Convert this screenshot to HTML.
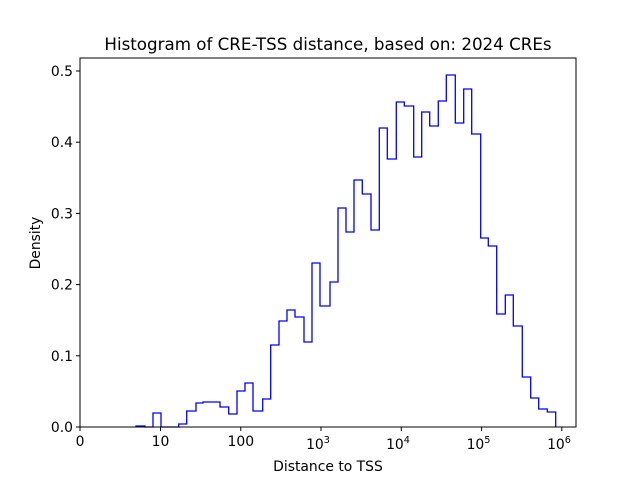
<!DOCTYPE html>
<html><head><meta charset="utf-8"><style>
html,body{margin:0;padding:0;background:#fff;}
svg{display:block;font-family:"DejaVu Sans","Liberation Sans",sans-serif;}
</style></head><body>
<svg width="640" height="480" viewBox="0 0 640 480" xmlns="http://www.w3.org/2000/svg">
<rect width="640" height="480" fill="#fff"/>
<text x="328" y="50" font-size="16.7" text-anchor="middle">Histogram of CRE-TSS distance, based on: 2024 CREs</text>
<path fill="none" stroke="#0000ff" stroke-width="1.3" d="M136,427 V426 H145 V427 H153 V413 H161 V427 H178.7 V424 H186.7 V411 H196 V403 H203 V402 H220 V407 H228.7 V414 H237 V391 H245 V383 H253 V411 H262.7 V399 H270.7 V345 H279 V321 H287 V310 H295 V317 H304 V342 H312 V263 H320 V306 H330 V282 H338 V208 H346 V232 H354 V180 H362.3 V194 H371 V230 H379.3 V128 H387.3 V159 H396.3 V102 H404.3 V106 H413.7 V157 H421.7 V112 H429.7 V126 H438.3 V101 H446.3 V75 H455.3 V123 H463.7 V89 H471.7 V134 H480.7 V238 H488.3 V246 H496.7 V314 H505.3 V295 H513.3 V326 H522.3 V377 H530.7 V398 H538.7 V409 H547.3 V412 H555.7 V427"/>
<rect x="80" y="58" width="496" height="369" fill="none" stroke="#000" stroke-width="1"/>
<g stroke="#000" stroke-width="1">
<line x1="80" y1="427" x2="80" y2="431"/><line x1="160.5" y1="427" x2="160.5" y2="431"/><line x1="240.8" y1="427" x2="240.8" y2="431"/><line x1="321" y1="427" x2="321" y2="431"/><line x1="401.3" y1="427" x2="401.3" y2="431"/><line x1="481.6" y1="427" x2="481.6" y2="431"/><line x1="561.8" y1="427" x2="561.8" y2="431"/>
<line x1="76" y1="427" x2="80" y2="427"/><line x1="76" y1="355.8" x2="80" y2="355.8"/><line x1="76" y1="284.6" x2="80" y2="284.6"/><line x1="76" y1="213.4" x2="80" y2="213.4"/><line x1="76" y1="142.2" x2="80" y2="142.2"/><line x1="76" y1="71" x2="80" y2="71"/>
</g>
<g font-size="13.9" text-anchor="middle">
<text x="80" y="446">0</text><text x="160.5" y="446">10</text><text x="240.8" y="446">100</text>
<text x="318" y="449">10<tspan font-size="9.7" dy="-6">3</tspan></text>
<text x="398" y="449">10<tspan font-size="9.7" dy="-6">4</tspan></text>
<text x="478.5" y="449">10<tspan font-size="9.7" dy="-6">5</tspan></text>
<text x="559" y="449">10<tspan font-size="9.7" dy="-6">6</tspan></text>
<text x="328" y="471">Distance to TSS</text>
</g>
<g font-size="13.9" text-anchor="end">
<text x="73" y="432">0.0</text><text x="73" y="360.8">0.1</text><text x="73" y="289.6">0.2</text><text x="73" y="218.4">0.3</text><text x="73" y="147.2">0.4</text><text x="73" y="76">0.5</text>
</g>
<text transform="translate(40,243) rotate(-90)" font-size="13.9" text-anchor="middle">Density</text>
</svg>
</body></html>
